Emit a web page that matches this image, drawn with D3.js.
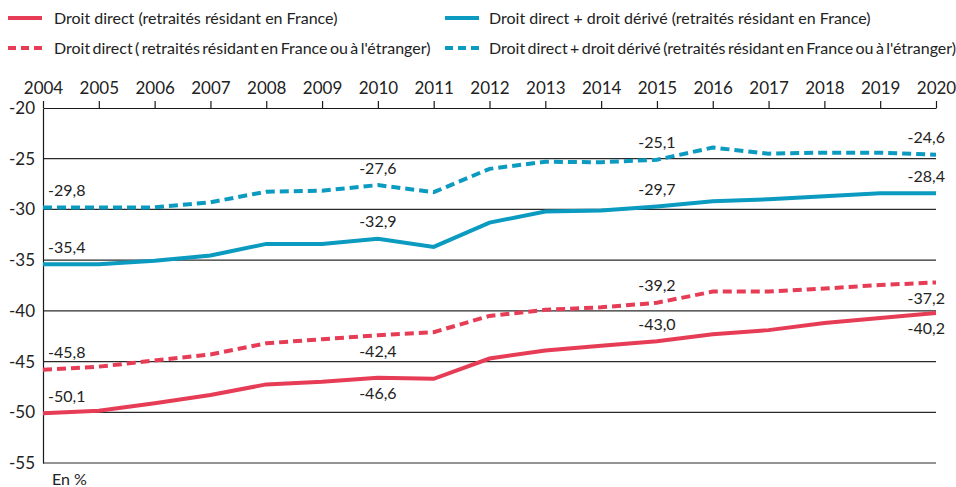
<!DOCTYPE html>
<html>
<head>
<meta charset="utf-8">
<script src="https://cdn.jsdelivr.net/npm/d3@7"></script>
<style>
    body { margin: 0; background: #fff; }
    svg { font-family: Lato, "Open Sans", sans-serif; }
</style>
</head>
<body>
<div id="chart"></div>
<script>
// Years on the x axis
const years = d3.range(2004, 2021);

// Series values (en %)
const directFrance = [-50.1, -49.85, -49.1, -48.3, -47.25, -47.0, -46.6, -46.7, -44.7, -43.9, -43.45, -43.0, -42.3, -41.9, -41.2, -40.7, -40.2];
const directAll = [-45.8, -45.5, -44.9, -44.3, -43.2, -42.8, -42.4, -42.1, -40.5, -39.9, -39.65, -39.2, -38.1, -38.1, -37.8, -37.45, -37.2];
const deriveFrance = [-35.4, -35.4, -35.05, -34.55, -33.4, -33.4, -32.9, -33.7, -31.3, -30.2, -30.1, -29.7, -29.2, -29.0, -28.7, -28.4, -28.4];
const deriveAll = [-29.8, -29.8, -29.8, -29.3, -28.25, -28.15, -27.6, -28.3, -26.0, -25.3, -25.35, -25.1, -23.9, -24.5, -24.4, -24.4, -24.6];

const yTicks = [-20, -25, -30, -35, -40, -45, -50, -55];
const labelYears = [2004, 2010, 2015, 2020];

const series = [
    { name: 'Droit direct (retraités résidant en France)', values: directFrance, color: '#e73c55', dashed: false, below: [2010, 2020] },
    { name: 'Droit direct ( retraités résidant en France ou à l\'étranger)', values: directAll, color: '#e73c55', dashed: true, below: [2010, 2020] },
    { name: 'Droit direct + droit dérivé (retraités résidant en France)', values: deriveFrance, color: '#0b9ac0', dashed: false, below: [] },
    { name: 'Droit direct + droit dérivé (retraités résidant en France ou à l\'étranger)', values: deriveAll, color: '#0b9ac0', dashed: true, below: [] }
];

const width = 956, height = 487;
const margin = { top: 108, right: 20, bottom: 24, left: 43 };

const svg = d3.select('#chart').append('svg')
    .attr('width', width)
    .attr('height', height);

const x = d3.scaleLinear()
    .domain([2004, 2020])
    .range([margin.left, width - margin.right]);

const y = d3.scaleLinear()
    .domain([-20, -55])
    .range([margin.top, height - margin.bottom]);

// French decimal comma, plain hyphen for the minus
const fmt = v => v.toFixed(1).replace('.', ',');

// Horizontal grid lines
svg.append('g')
    .selectAll('line')
    .data(yTicks.slice(1))
    .join('line')
    .attr('x1', x(2004))
    .attr('x2', x(2020))
    .attr('y1', d => y(d))
    .attr('y2', d => y(d))
    .attr('stroke', '#2b2b2b')
    .attr('stroke-width', 1.2);

// Top axis (years)
const xAxis = svg.append('g')
    .attr('transform', `translate(0,${y(-20)})`)
    .call(d3.axisTop(x).tickValues(years).tickFormat(d3.format('d')).tickSize(7).tickSizeOuter(0));
xAxis.select('.domain').attr('stroke', '#1a1a1a').attr('stroke-width', 1.2);
xAxis.selectAll('.tick line').attr('stroke', '#1a1a1a').attr('stroke-width', 1.2);
xAxis.selectAll('text')
    .attr('font-size', 17)
    .attr('fill', '#222')
    .attr('font-family', 'Lato, sans-serif')
    .attr('dy', '-0.25em');

// Left axis
const yAxis = svg.append('g')
    .attr('transform', `translate(${x(2004)},0)`)
    .call(d3.axisLeft(y).tickValues(yTicks).tickFormat(d => String(d)).tickSize(0).tickPadding(8));
yAxis.select('.domain').attr('stroke', '#1a1a1a').attr('stroke-width', 1.2);
yAxis.selectAll('text')
    .attr('font-size', 17)
    .attr('fill', '#222')
    .attr('font-family', 'Lato, sans-serif');

// Lines
const line = d3.line()
    .x((d, i) => x(years[i]))
    .y(d => y(d));

svg.append('g')
    .selectAll('path')
    .data(series)
    .join('path')
    .attr('d', d => line(d.values))
    .attr('fill', 'none')
    .attr('stroke', d => d.color)
    .attr('stroke-width', 4)
    .attr('stroke-dasharray', d => d.dashed ? '9,5' : null);

// Value labels
series.forEach(s => {
    labelYears.forEach(yr => {
        const i = years.indexOf(yr);
        const v = s.values[i];
        const below = s.below.includes(yr);
        const anchor = yr === 2004 ? 'start' : yr === 2020 ? 'end' : 'middle';
        const dx = yr === 2004 ? 5 : yr === 2020 ? 9 : 0;
        svg.append('text')
            .attr('x', x(yr) + dx)
            .attr('y', y(v) + (below ? 16 : -17))
            .attr('dy', '0.35em')
            .attr('text-anchor', anchor)
            .attr('font-size', 16)
            .attr('fill', '#222')
            .text(fmt(v));
    });
});

// Legend
const legendPos = [
    { x: 8, y: 18 }, { x: 8, y: 48 },
    { x: 445, y: 18 }, { x: 445, y: 48 }
];
const legend = svg.append('g')
    .selectAll('g')
    .data(series)
    .join('g')
    .attr('transform', (d, i) => `translate(${legendPos[i].x},${legendPos[i].y})`);

legend.append('line')
    .attr('x1', 0).attr('x2', 34)
    .attr('stroke', d => d.color)
    .attr('stroke-width', 4)
    .attr('stroke-dasharray', d => d.dashed ? '8,5' : null);

// the "ou à l'étranger" entries are set tighter in the original
legend.append('text')
    .attr('x', (d, i) => i < 2 ? 46 : 44)
    .attr('dy', '0.35em')
    .attr('font-size', 16)
    .attr('word-spacing', d => d.dashed ? '-1.7px' : null)
    .attr('fill', '#222')
    .text(d => d.name);

// Unit
svg.append('text')
    .attr('x', 52)
    .attr('y', 485)
    .attr('font-size', 16)
    .attr('fill', '#222')
    .text('En %');
</script>
</body>
</html>
